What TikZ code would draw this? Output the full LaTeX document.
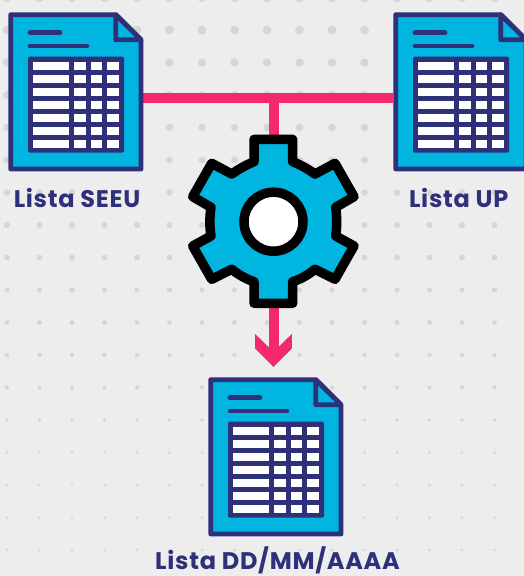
\documentclass[tikz,border=0pt]{standalone}
\usepackage{fontspec}
\setmainfont{Poppins}[LetterSpace=3]
\usetikzlibrary{calc}
\definecolor{bgc}{HTML}{EDEDED}
\definecolor{dotc}{HTML}{D6D6D6}
\definecolor{navy}{HTML}{2E3079}
\definecolor{cyanc}{HTML}{00B5E0}
\definecolor{pinkc}{HTML}{F3286E}
\tikzset{
  x=1pt,y=-1pt,
  outline/.style={draw=navy,line width=4.8pt,line join=round},
  txtline/.style={draw=navy,line width=4.6pt,line cap=round},
  docbox/.style={minimum width=135pt,minimum height=159pt,inner sep=0pt,outer sep=0pt,draw=none},
  caption/.style={anchor=base,inner sep=0pt,text=navy,font=\bfseries\fontsize{24}{28}\selectfont},
  pinkline/.style={draw=pinkc,line width=10pt},
  gearline/.style={draw=black,fill=cyanc,line width=9.5pt,line join=round},
}
\newcommand{\docicon}[2]{%
\begin{scope}[shift={(#1,#2)}]
  \path[outline,fill=cyanc] (10.7,14.7) -- (116,14.7) -- (141,39.8) -- (141,169) -- (10.7,169) -- cycle;
  \path[outline,fill=cyanc] (115.8,14.7) -- (115.8,39.8) -- (141,39.8) -- cycle;
  \path[txtline] (30,32.7) -- (60,32.7);
  \path[txtline] (30,46) -- (87,46);
  \fill[navy,rounded corners=1.5pt] (28,56.7) rectangle (124,152.7);
  \foreach \r in {0,...,6}{
    \foreach \a/\b in {32.7/69.3,74/85.7,90.7/102.3,107.3/119}{
      \fill[white] (\a,61.5+13*\r) rectangle (\b,70.3+13*\r);
    }
  }
\end{scope}}
\begin{document}
\begin{tikzpicture}
\useasboundingbox (0,0) rectangle (524,576);
\clip (0,0) rectangle (524,576);
\fill[bgc] (0,0) rectangle (524,576);
% dotted backdrop
\foreach \j in {-1,...,16}{
  \foreach \i in {0,...,15}{
    \pgfmathsetmacro{\yy}{30+32.5*\j}
    \pgfmathsetmacro{\xx}{7+32.5*\i}
    \pgfmathsetmacro{\rr}{max(1.5,4.6-\yy/150)}
    \fill[dotc] (\xx,\yy) circle[radius=\rr pt];
  }
}
% named anchors
\node[docbox] (seeu) at (75.5,91.5) {};
\node[docbox] (up) at (460.5,91.5) {};
\node[docbox] (dd) at (275.5,456.5) {};
\node[minimum size=170pt,inner sep=0pt,draw=none,circle] (gear) at (273.5,221.7) {};
\coordinate (lport) at (seeu.east |- 0,98);
\coordinate (rport) at (up.west |- 0,98);
\coordinate (junction) at (gear.center |- 0,98);
\coordinate (tipbase) at ($(gear.center)+(0,128)$);
\coordinate (tip) at ($(gear.center)+(0,145.3)$);
% connectors
\draw[pinkline] (lport) -- (rport);
\draw[pinkline] (junction) -- (gear.center);
\draw[pinkline] (gear.center) -- (tipbase);
\fill[pinkc] (tip) -- ++(-18.3,-18.5) -- ++(0,-14.5) -- ++(13.2,13) -- ++(10.2,0) -- ++(13.2,-13) -- ++(0,14.5) -- cycle;
% documents
\docicon{0}{0}
\docicon{385}{0}
\docicon{200}{365}
% gear
\path[gearline] (254,139.3) -- (292.7,139.3) -- (292.7,161.7)
  .. controls (301,165) and (308,169) .. (315,174)
  -- (335,163.3) -- (354,196.7) -- (335.7,207.3)
  .. controls (337,216) and (337,228) .. (335.7,236)
  -- (354,246) -- (335,279.3) -- (315,269.3)
  .. controls (308,275) and (301,279) .. (292.7,281.7)
  -- (292.7,303.3) -- (254,303.3) -- (254,281.7)
  .. controls (246,279) and (239,275) .. (231.7,269.3)
  -- (211.7,279.3) -- (192.7,246) -- (211,236)
  .. controls (209.5,228) and (209.5,216) .. (211,207.3)
  -- (192.7,196.7) -- (211.7,163.3) -- (231.7,174)
  .. controls (239,169) and (246,165) .. (254,161.7)
  -- cycle;
\draw[black,fill=white,line width=9.5pt] (gear.center) circle[radius=29.5pt];
% captions
\node[caption] (seeucap) at (77,207.5) {Lista SEEU};
\node[caption] (upcap) at (458.7,207.5) {Lista UP};
\node[caption] (ddcap) at (277.5,569.5) {Lista DD/MM/AAAA};
\end{tikzpicture}
\end{document}
